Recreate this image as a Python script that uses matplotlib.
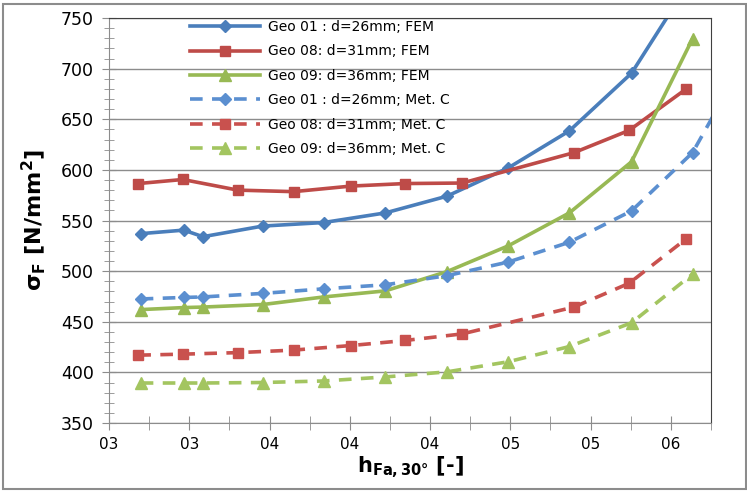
import matplotlib.pyplot as plt
import matplotlib.patches as patches

plt.rcParams['font.family'] = ['DejaVu Sans']
plt.rcParams['mathtext.default'] = 'bf'

# x positions (h_Fa,30°) - Geo 01 and Geo 09 share them, Geo 08 has its own
x_geo01 = [0.2958, 0.3173, 0.3268, 0.3566, 0.387, 0.4177, 0.4484, 0.479, 0.5094, 0.5404, 0.5708, 0.60]
x_geo08 = [0.2946, 0.3168, 0.3442, 0.372, 0.4006, 0.4276, 0.456, 0.5117, 0.5392, 0.5677]
x_geo09 = [0.2958, 0.3173, 0.3268, 0.3566, 0.387, 0.4177, 0.4484, 0.479, 0.5094, 0.5404, 0.5708]

# sigma_F [N/mm2]
fem_geo01 = [537, 540.5, 534, 544.5, 548, 557.5, 574, 602, 638.5, 695.5, 790, 900]
fem_geo08 = [586.5, 590.5, 580, 578.5, 584, 586.5, 587, 617, 639, 680]
fem_geo09 = [462, 464, 464.5, 467, 474.5, 480.5, 499.5, 525, 557.5, 608, 729.5]
metc_geo01 = [472.5, 474, 474.5, 478, 482.5, 486.5, 495.5, 509, 528.5, 559.5, 617, 720]
metc_geo08 = [417, 418, 419.5, 422, 426.5, 431.5, 438, 464.5, 488, 532]
metc_geo09 = [389.5, 389.5, 389.5, 390, 391.5, 395.5, 400.5, 410.5, 425.5, 449, 497]

labels = ['Geo 01 : d=26mm; FEM', 'Geo 08: d=31mm; FEM', 'Geo 09: d=36mm; FEM',
          'Geo 01 : d=26mm; Met. C', 'Geo 08: d=31mm; Met. C', 'Geo 09: d=36mm; Met. C']

xticks = [0.28, 0.32, 0.36, 0.40, 0.44, 0.48, 0.52, 0.56]
xticklabels = ['03', '03', '04', '04', '04', '05', '05', '06']

blue, red, green = '#4a7ebb', '#be4b48', '#98b954'
blue2, red2, green2 = '#5b8fd0', '#c9514e', '#a3c560'

fig = plt.figure(figsize=(7.47, 4.92), dpi=100)
ax = fig.add_axes([109/747, 1-423/492, (711-109)/747, (423-18)/492])

lw = 2.6
ax.plot(x_geo01, fem_geo01, color=blue, lw=lw, marker='D', ms=6.5, label=labels[0])
ax.plot(x_geo08, fem_geo08, color=red, lw=lw, marker='s', ms=7.5, label=labels[1])
ax.plot(x_geo09, fem_geo09, color=green, lw=lw, marker='^', ms=8, label=labels[2])
ax.plot(x_geo01, metc_geo01, color=blue2, lw=lw, marker='D', ms=6.5, dashes=(3.5, 2.6), label=labels[3])
ax.plot(x_geo08, metc_geo08, color=red2, lw=lw, marker='s', ms=7.5, dashes=(3.5, 2.6), label=labels[4])
ax.plot(x_geo09, metc_geo09, color=green2, lw=lw, marker='^', ms=8, dashes=(3.5, 2.6), label=labels[5])

ax.set_xlim(0.28, 0.58)
ax.set_ylim(350, 750)
ax.set_xticks(xticks)
ax.set_xticklabels(xticklabels)
ax.set_xticks([0.30, 0.34, 0.38, 0.42, 0.46, 0.50, 0.54, 0.58], minor=True)
ax.set_yticks(range(350, 751, 50))
ax.set_yticks([v for v in range(350, 751, 10) if v % 50], minor=True)

ax.yaxis.grid(True, color='#8c8c8c', lw=1)
ax.set_axisbelow(True)
ax.tick_params(axis='both', which='both', direction='inout', color='#8c8c8c')
ax.tick_params(axis='y', which='major', length=10, labelsize=12.5, pad=6)
ax.tick_params(axis='y', which='minor', length=7)
ax.tick_params(axis='x', which='both', length=10, labelsize=11, pad=5)
for s in ['left', 'bottom']:
    ax.spines[s].set_color('#8c8c8c')
for s in ['top', 'right']:
    ax.spines[s].set_color('#404040')

ax.set_xlabel('$h_{Fa,30°}$ [-]', fontsize=15, fontweight='bold', labelpad=2)
ax.set_ylabel('$\\sigma_F$ [N/mm$^2$]', fontsize=16, fontweight='bold', labelpad=9)

ax.legend(loc='upper left', bbox_to_anchor=(0.135, 0.995), frameon=False, fontsize=10,
          handlelength=5, handletextpad=0.6, labelspacing=0.75, borderpad=0, borderaxespad=0)

fig.patches.append(patches.Rectangle((3/747, 3/492), 743/747, 485/492, transform=fig.transFigure,
                                     fill=False, edgecolor='#8c8c8c', lw=1.5))

fig.savefig('out.png', dpi=100)
